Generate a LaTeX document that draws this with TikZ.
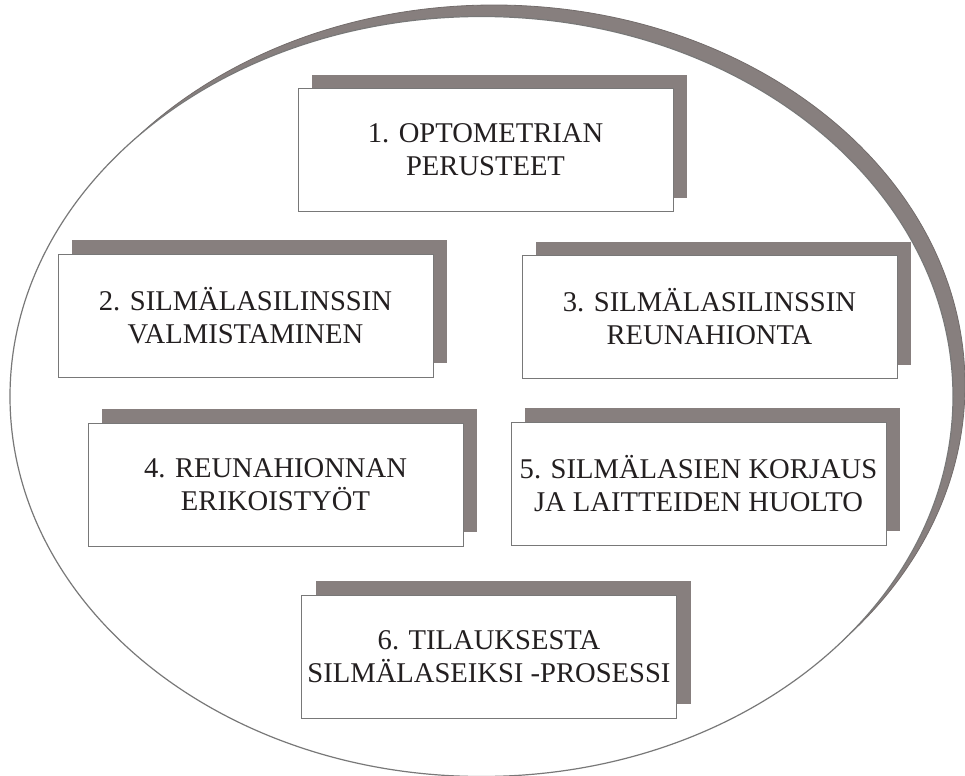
\documentclass[tikz,border=0pt]{standalone}
\usepackage{fontspec}
\setmainfont{Liberation Serif}
\usetikzlibrary{shadows}
\definecolor{custom-gray}{RGB}{135, 127, 126}
\definecolor{custom-line}{RGB}{120, 120, 120}
\definecolor{custom-text}{RGB}{35, 31, 32}
\tikzset{
  course/.style={draw=custom-line, fill=white, line width=0.5pt, inner sep=2pt,
    minimum width=187.5pt, minimum height=61.5pt, align=center,
    text=custom-text, font=\fontsize{14.3}{16.5}\selectfont,
    drop shadow={shadow xshift=7pt, shadow yshift=7pt, fill=custom-gray, opacity=1}}
}
\begin{document}
\begin{tikzpicture}[x=0.5pt, y=-0.5pt]
\useasboundingbox (0,0) rectangle (965,776);
\filldraw[fill=custom-gray, draw=custom-gray!85!black, line width=0.4pt] (494,385) ellipse [x radius=471, y radius=380];
\filldraw[fill=white, draw=custom-line, line width=0.6pt] (481.5,396.5) ellipse [x radius=471.5, y radius=380];

\node[course] (optometry) at (485.5,150) {1. OPTOMETRIAN\\PERUSTEET};
\node[course] (making) at (245.5,315.5) {2. SILMÄLASILINSSIN\\VALMISTAMINEN};
\node[course] (edging) at (709.5,317) {3. SILMÄLASILINSSIN\\REUNAHIONTA};
\node[course] (special) at (275.5,484.5) {4. REUNAHIONNAN\\ERIKOISTYÖT};
\node[course] (repair) at (698.5,483.5) {5. SILMÄLASIEN KORJAUS\\JA LAITTEIDEN HUOLTO};
\node[course] (process) at (489,656.5) {6. TILAUKSESTA\\SILMÄLASEIKSI -PROSESSI};
\end{tikzpicture}
\end{document}
